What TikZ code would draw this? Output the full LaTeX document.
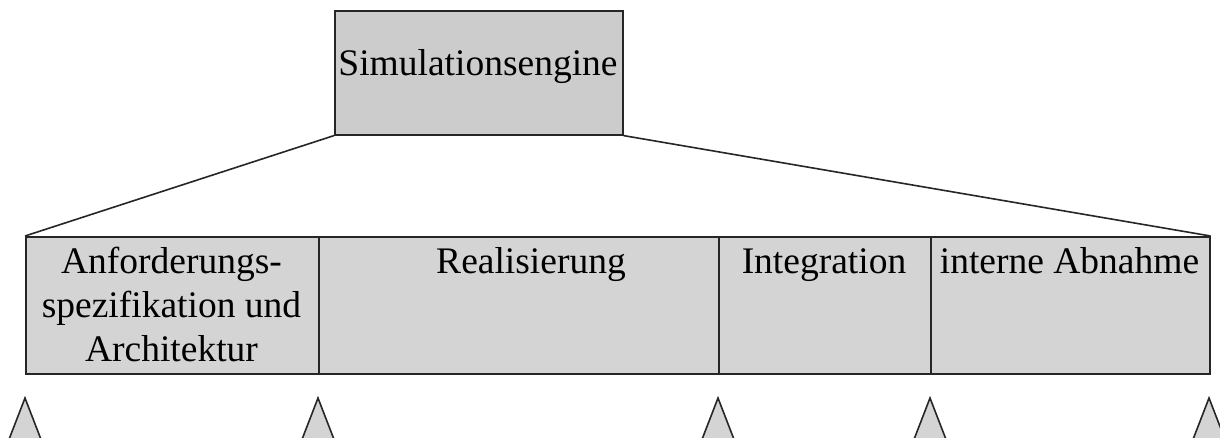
\documentclass[tikz,border=0pt]{standalone}
\usepackage{fontspec}
\setmainfont{Liberation Serif}
\definecolor{boxgray}{HTML}{CCCCCC}
\definecolor{cellgray}{HTML}{D4D4D4}
\begin{document}
\begin{tikzpicture}[x=1pt,y=-1pt,
  every node/.style={font=\fontsize{37.5}{44}\selectfont, inner sep=0pt},
  frame/.style={draw=black!85, line width=1.6pt},
  cellbox/.style={frame, fill=cellgray, anchor=north west, minimum height=137pt},
  label/.style={align=center, anchor=base},
  milestone/.style={draw=black!85, line width=1.6pt, fill=cellgray, line join=miter}]
\useasboundingbox (0,0) rectangle (1220,437);
\clip (0,0) rectangle (1220,437);
% top box
\node[frame, fill=boxgray, anchor=north west, minimum width=288pt, minimum height=124pt] (eng) at (334,10) {};
\node[label] (engtxt) at (478,75) {Simulationsengine};
% phase cells
\node[cellbox, minimum width=293pt] (c1) at (25,236) {};
\node[cellbox, minimum width=400pt] (c2) at (318,236) {};
\node[cellbox, minimum width=212pt] (c3) at (718,236) {};
\node[cellbox, minimum width=279pt] (c4) at (930,236) {};
\node[label] (t1) at (171.5,361) {Anforderungs-\\spezifikation und\\Architektur};
\node[label] (t2) at (531,273) {Realisierung};
\node[label] (t3) at (824,273) {Integration};
\node[label] (t4) at (1069.5,273) {interne Abnahme};
% connectors
\draw[frame] (eng.south west) -- (c1.north west);
\draw[frame] (eng.south east) -- (c4.north east);
% milestones
\foreach \x/\n in {25/m1, 318/m2, 718/m3, 930/m4, 1209/m5}{
  \coordinate (\n) at (\x,398);
  \draw[milestone] (\n) -- ++(17,44) -- ++(-34,0) -- cycle;
}
\end{tikzpicture}
\end{document}
